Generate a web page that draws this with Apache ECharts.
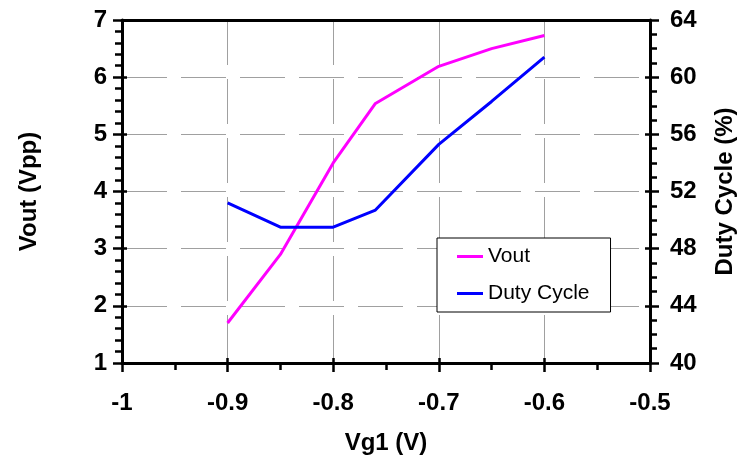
<!DOCTYPE html>
<html>
<head>
<meta charset="utf-8">
<script src="https://cdn.jsdelivr.net/npm/echarts@6/dist/echarts.min.js"></script>
<style>html,body{margin:0;padding:0;background:#fff}#c{width:745px;height:460px}</style>
</head>
<body>
<div id="c"></div>
<script>
var vg1 = [-0.9, -0.85, -0.8, -0.76, -0.7, -0.65, -0.6];
var vout = [1.7, 2.9, 4.5, 5.54, 6.19, 6.5, 6.73];
var duty = [51.2, 49.5, 49.5, 50.7, 55.3, 58.3, 61.4];
var seriesNames = ['Vout', 'Duty Cycle'];
var xTitle = 'Vg1 (V)', yLeftTitle = 'Vout (Vpp)', yRightTitle = 'Duty Cycle (%)';

var FONT = '"Liberation Sans", Arial, sans-serif';
var chart = echarts.init(document.getElementById('c'), null, {renderer: 'canvas'});
function pairs(xs, ys) { return xs.map(function (x, i) { return [x, ys[i]]; }); }
var gridDash = {color: '#a0a0a0', width: 1, type: [45, 14]};
var lbl = {color: '#000', fontFamily: FONT, fontWeight: 'bold', fontSize: 24};

chart.setOption({
  animation: false,
  backgroundColor: '#fff',
  grid: {left: 122, right: 92, top: 20, bottom: 95.5, containLabel: false},
  legend: {
    data: seriesNames, orient: 'vertical', left: 437, top: 238,
    icon: 'rect', itemWidth: 26, itemHeight: 3, itemGap: 16,
    padding: [8, 21, 8, 20], borderColor: '#000', borderWidth: 1,
    backgroundColor: '#fff',
    textStyle: {fontFamily: FONT, fontSize: 21, color: '#000', padding: [0, 0, 0, 0]}
  },
  xAxis: [{
    type: 'value', min: -1, max: -0.5, interval: 0.1,
    name: xTitle, nameLocation: 'middle', nameGap: 68,
    nameTextStyle: {color: '#000', fontFamily: FONT, fontWeight: 'bold', fontSize: 24},
    axisLine: {show: true, onZero: false, lineStyle: {color: '#000', width: 3}},
    axisTick: {show: true, inside: false, length: 9, lineStyle: {color: '#000', width: 2.5}},
    minorTick: {show: true, splitNumber: 2, length: 7, lineStyle: {color: '#000', width: 2.5}},
    axisLabel: Object.assign({margin: 28, formatter: function (v) { return String(Math.round(v * 10) / 10); }}, lbl),
    splitLine: {show: true, lineStyle: gridDash}
  }, {
    type: 'value', min: -1, max: -0.5, interval: 0.1, position: 'bottom',
    axisLine: {show: false}, axisLabel: {show: false}, splitLine: {show: false},
    axisTick: {show: true, inside: true, length: 5, lineStyle: {color: '#000', width: 2.5}}
  }, {
    type: 'value', min: -1, max: -0.5, position: 'top',
    axisLine: {show: true, onZero: false, lineStyle: {color: '#000', width: 3}},
    axisTick: {show: false}, axisLabel: {show: false}, splitLine: {show: false}
  }],
  yAxis: [{
    type: 'value', min: 1, max: 7, interval: 1, position: 'left',
    name: yLeftTitle, nameLocation: 'middle', nameGap: 81, nameRotate: 90,
    nameTextStyle: {color: '#000', fontFamily: FONT, fontWeight: 'bold', fontSize: 24},
    axisLine: {show: true, onZero: false, lineStyle: {color: '#000', width: 3}},
    axisTick: {show: true, inside: false, length: 9, lineStyle: {color: '#000', width: 2.5}},
    minorTick: {show: true, splitNumber: 5, length: 7, lineStyle: {color: '#000', width: 2.5}},
    axisLabel: Object.assign({margin: 15}, lbl),
    splitLine: {show: true, lineStyle: gridDash}
  }, {
    type: 'value', min: 40, max: 64, interval: 4, position: 'right',
    name: yRightTitle, nameLocation: 'middle', nameGap: 63, nameRotate: 90,
    nameTextStyle: {color: '#000', fontFamily: FONT, fontWeight: 'bold', fontSize: 24},
    axisLine: {show: true, onZero: false, lineStyle: {color: '#000', width: 3}},
    axisTick: {show: true, inside: false, length: 9, lineStyle: {color: '#000', width: 2.5}},
    minorTick: {show: true, splitNumber: 4, length: 7, lineStyle: {color: '#000', width: 2.5}},
    axisLabel: Object.assign({margin: 20}, lbl),
    splitLine: {show: false}
  }, {
    type: 'value', min: 1, max: 7, interval: 1, position: 'left',
    axisLine: {show: false}, axisLabel: {show: false}, splitLine: {show: false},
    axisTick: {show: true, inside: true, length: 5, lineStyle: {color: '#000', width: 2.5}}
  }, {
    type: 'value', min: 40, max: 64, interval: 4, position: 'right',
    axisLine: {show: false}, axisLabel: {show: false}, splitLine: {show: false},
    axisTick: {show: true, inside: true, length: 5, lineStyle: {color: '#000', width: 2.5}}
  }],
  series: [{
    name: seriesNames[0], type: 'line', xAxisIndex: 0, yAxisIndex: 0,
    data: pairs(vg1, vout), showSymbol: false, symbol: 'none',
    lineStyle: {color: '#ff00ff', width: 3}, itemStyle: {color: '#ff00ff'}
  }, {
    name: seriesNames[1], type: 'line', xAxisIndex: 0, yAxisIndex: 1,
    data: pairs(vg1, duty), showSymbol: false, symbol: 'none',
    lineStyle: {color: '#0000ff', width: 3}, itemStyle: {color: '#0000ff'}
  }]
});
</script>
</body>
</html>
